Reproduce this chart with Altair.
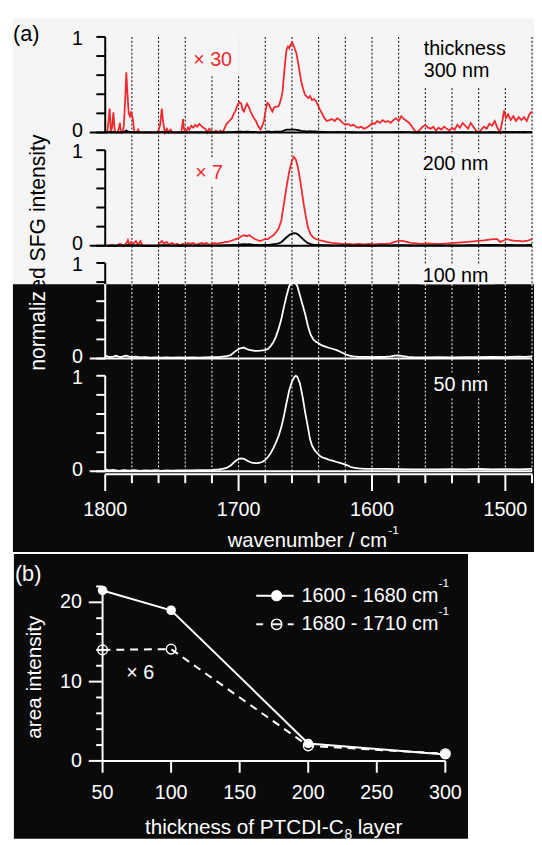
import altair as alt
import pandas as pd

FONT = "Liberation Sans"
RED = "#ee2a2e"
LIGHT = "#f5f5f5"
DARK = "#0a0a0a"

# ---------------- data ----------------
# 300 nm spectrum shown x30 (red); black curve = red / 30
spec300_x30 = [(1800,0.0),(1798.5,0.0),(1797.5,0.12),(1796.7,0.25),(1795.7,0.0),(1794.8,0.06),(1793.9,0.21),(1793.0,0.04),(1792.2,0.0),(1790.8,0.0),(1789.8,0.04),(1789.0,0.1),(1788.2,0.0),(1786.8,0.0),(1786.0,0.08),(1785.0,0.35),(1784.2,0.63),(1783.4,0.42),(1782.4,0.2),(1781.5,0.17),(1780.6,0.22),(1779.3,0.14),(1778.5,0.04),(1778.0,0.0),(1776.5,0.0),(1775.3,0.03),(1774.5,0.0),(1770,0.0),(1766,0.0),(1762,0.0),(1760,0.02),(1758.8,0.08),(1757.6,0.25),(1756.5,0.1),(1755.3,0.0),(1753.8,0.04),(1752.5,0.0),(1751,0.03),(1749.5,0.0),(1745,0.0),(1743,0.0),(1742.3,0.06),(1741.7,0.14),(1741,0.04),(1739.5,0.0),(1738,0.05),(1737,0.03),(1735.5,0.07),(1734,0.05),(1732.5,0.08),(1731,0.06),(1729.5,0.09),(1728,0.07),(1726.5,0.05),(1725,0.04),(1723.5,0.0),(1722,0.04),(1720.5,0.02),(1719,0.0),(1717,0.02),(1715.5,0.0),(1713.5,0.02),(1712,0.0),(1711,0.03),(1709,0.09),(1707,0.12),(1705,0.15),(1703.5,0.2),(1702.5,0.22),(1701,0.28),(1699.5,0.32),(1698,0.3),(1697,0.24),(1696,0.22),(1695,0.26),(1693.7,0.3),(1692.5,0.27),(1691,0.22),(1690,0.19),(1688.5,0.15),(1687,0.12),(1685.5,0.07),(1683.5,0.03),(1682,0.08),(1681,0.12),(1679.5,0.25),(1678.4,0.31),(1677,0.29),(1676,0.25),(1674.6,0.22),(1673.5,0.26),(1672,0.27),(1670.5,0.27),(1669.5,0.29),(1668,0.36),(1667,0.43),(1666,0.6),(1665,0.75),(1664,0.87),(1663,0.9),(1662,0.88),(1661,0.92),(1659.7,0.94),(1658.5,0.9),(1657.5,0.86),(1656.7,0.83),(1655,0.7),(1653,0.53),(1651.5,0.45),(1650,0.39),(1648.5,0.37),(1647.7,0.36),(1646.5,0.38),(1645,0.34),(1643.5,0.35),(1642,0.33),(1641,0.3),(1639,0.24),(1637.5,0.2),(1636,0.16),(1634,0.12),(1632,0.13),(1630,0.14),(1628,0.12),(1626,0.15),(1624,0.13),(1622,0.1),(1620,0.08),(1618,0.09),(1616,0.07),(1614,0.08),(1612,0.06),(1610,0.05),(1608,0.06),(1606,0.04),(1604,0.05),(1602,0.07),(1600,0.1),(1598,0.09),(1596,0.12),(1594,0.1),(1592,0.13),(1590,0.11),(1588,0.12),(1586,0.1),(1584,0.13),(1582,0.15),(1580,0.12),(1578,0.17),(1576,0.14),(1574,0.12),(1572,0.1),(1570,0.06),(1568,0.02),(1566,0.0),(1564,0.03),(1562,0.06),(1560,0.08),(1558,0.05),(1556,0.04),(1554,0.06),(1552,0.02),(1550,0.05),(1548,0.03),(1546,0.06),(1544,0.04),(1542,0.02),(1540,0.05),(1538,0.03),(1536,0.08),(1534,0.05),(1532,0.1),(1530,0.07),(1528,0.04),(1526,0.1),(1524,0.06),(1522,0.02),(1520,0.0),(1518,0.03),(1516,0.06),(1514,0.04),(1512,0.09),(1510,0.07),(1508,0.12),(1506,0.05),(1504,0.0),(1502,0.14),(1501,0.23),(1499.5,0.15),(1498,0.19),(1496,0.13),(1494,0.17),(1492,0.12),(1490,0.16),(1488,0.13),(1486,0.16),(1484,0.12),(1482,0.19),(1480,0.22)]
factor300 = 30

# 200 nm spectrum shown x7 (red); black curve = red / 7
spec200_x7 = [(1798.5,0.0),(1795,0.01),(1792,0.0),(1789,0.02),(1786,0.0),(1784,0.03),(1783,0.06),(1782,0.01),(1780.5,0.04),(1779,0.02),(1777,0.05),(1775.5,0.01),(1773.5,0.05),(1772,0.0),(1768,0.0),(1764,0.0),(1761,0.0),(1759,0.03),(1757.5,0.05),(1756,0.02),(1754,0.04),(1752,0.01),(1750,0.03),(1748,0.01),(1746,0.02),(1744,0.0),(1742,0.02),(1740,0.01),(1738,0.03),(1736,0.02),(1734,0.03),(1732,0.01),(1730,0.02),(1728,0.03),(1726,0.02),(1724,0.03),(1722,0.01),(1720,0.02),(1718,0.03),(1716,0.02),(1714,0.03),(1712,0.03),(1710,0.04),(1708,0.04),(1706,0.05),(1704,0.06),(1702,0.07),(1700,0.08),(1698,0.1),(1696,0.11),(1694,0.1),(1692,0.11),(1690,0.09),(1688,0.07),(1686,0.06),(1684,0.05),(1682,0.06),(1680,0.07),(1678,0.07),(1676,0.09),(1674,0.11),(1672,0.14),(1670,0.18),(1668,0.26),(1666,0.44),(1664,0.62),(1662,0.78),(1660,0.89),(1658.5,0.93),(1657,0.9),(1655.5,0.82),(1654,0.7),(1652.5,0.56),(1651,0.42),(1649.5,0.3),(1648,0.19),(1646,0.12),(1644,0.085),(1642,0.07),(1640,0.06),(1637,0.05),(1634,0.04),(1630,0.03),(1626,0.025),(1622,0.02),(1618,0.02),(1614,0.015),(1610,0.02),(1606,0.015),(1602,0.02),(1598,0.015),(1594,0.02),(1590,0.02),(1586,0.025),(1583,0.04),(1580,0.05),(1577,0.05),(1574,0.04),(1571,0.03),(1567,0.025),(1563,0.02),(1558,0.025),(1553,0.02),(1548,0.02),(1543,0.025),(1538,0.03),(1533,0.035),(1528,0.04),(1524,0.045),(1520,0.05),(1516,0.055),(1512,0.065),(1509,0.07),(1506,0.07),(1504,0.04),(1502,0.05),(1499,0.07),(1496,0.06),(1493,0.05),(1490,0.05),(1487,0.045),(1484,0.05),(1482,0.06),(1480,0.07)]
factor200 = 7

spec100 = [(1800,0.03),(1798,0.02),(1796,0.015),(1794,0.02),(1792,0.03),(1790,0.02),(1788,0.015),(1786,0.025),(1784,0.03),(1782,0.02),(1780,0.015),(1777,0.02),(1774,0.012),(1770,0.015),(1766,0.01),(1762,0.012),(1758,0.01),(1754,0.012),(1750,0.01),(1745,0.012),(1740,0.01),(1735,0.012),(1730,0.01),(1725,0.012),(1720,0.015),(1715,0.015),(1712,0.02),(1709,0.025),(1706,0.035),(1703,0.07),(1700,0.1),(1698,0.11),(1696,0.115),(1694,0.1),(1692,0.09),(1690,0.085),(1688,0.08),(1686,0.08),(1684,0.082),(1682,0.085),(1680,0.09),(1678,0.1),(1676,0.13),(1674,0.17),(1672,0.23),(1670,0.31),(1668,0.41),(1666,0.54),(1664,0.66),(1662,0.76),(1660,0.8),(1658,0.8),(1656,0.76),(1654,0.66),(1652,0.56),(1650,0.46),(1648,0.34),(1646,0.25),(1644,0.2),(1642,0.175),(1640,0.16),(1638,0.14),(1635,0.125),(1632,0.11),(1629,0.1),(1626,0.085),(1623,0.065),(1620,0.045),(1617,0.03),(1614,0.022),(1610,0.018),(1605,0.017),(1600,0.015),(1595,0.016),(1590,0.018),(1586,0.022),(1583,0.03),(1580,0.033),(1577,0.025),(1573,0.018),(1568,0.013),(1560,0.012),(1550,0.015),(1540,0.012),(1530,0.015),(1520,0.015),(1510,0.018),(1500,0.015),(1490,0.02),(1485,0.018),(1480,0.022)]

spec50 = [(1800,0.02),(1797,0.01),(1794,0.015),(1790,0.005),(1786,0.012),(1782,0.008),(1778,0.012),(1774,0.005),(1770,0.01),(1766,0.008),(1762,0.012),(1758,0.005),(1754,0.01),(1750,0.008),(1745,0.01),(1740,0.01),(1735,0.01),(1730,0.012),(1725,0.012),(1720,0.015),(1715,0.02),(1712,0.025),(1709,0.035),(1706,0.06),(1703,0.1),(1700,0.13),(1698,0.135),(1696,0.13),(1694,0.115),(1692,0.1),(1690,0.092),(1688,0.086),(1686,0.085),(1684,0.09),(1682,0.1),(1680,0.12),(1678,0.15),(1676,0.19),(1674,0.24),(1672,0.3),(1670,0.37),(1668,0.46),(1666,0.58),(1664,0.72),(1662,0.85),(1660,0.94),(1658,0.99),(1657,1.0),(1656,0.99),(1654,0.92),(1652,0.78),(1650,0.61),(1648,0.46),(1646.5,0.34),(1645,0.27),(1643,0.22),(1641,0.19),(1639,0.16),(1637,0.145),(1635,0.135),(1632,0.12),(1629,0.11),(1627,0.1),(1624,0.088),(1621,0.075),(1618,0.06),(1616,0.045),(1613,0.035),(1610,0.03),(1605,0.025),(1600,0.025),(1590,0.025),(1580,0.022),(1570,0.02),(1560,0.02),(1550,0.02),(1540,0.022),(1530,0.02),(1520,0.025),(1510,0.02),(1500,0.022),(1490,0.02),(1480,0.025)]

grid_wn = [1780,1760,1740,1720,1700,1680,1660,1640,1620,1600,1580,1560,1540,1520,1500,1480]
major_wn = [1800,1700,1600,1500]
minor_wn = [1780,1760,1740,1720,1680,1660,1640,1620,1580,1560,1540,1520,1480]
ytick_a = [0,0.2,0.4,0.6,0.8,1.0]

thickness = [50,100,200,300]
area_1600_1680 = [21.5,19.0,2.2,0.8]
area_1680_1710_x6 = [14.0,14.1,1.9,0.9]
xtick_b = [50,100,150,200,250,300]
ymajor_b = [0,10,20]
yminor_b = [2,4,6,8,12,14,16,18,22]

# ---------------- layout (chart px) ----------------
ZERO = [120,235,349.5,464]
ONE = [23,138,252.5,367]
XA = alt.Scale(domain=[1800,1480], range=[98.7,532], zero=False, nice=False)
def YA(k):
    return alt.Scale(domain=[0,1], range=[ZERO[k],ONE[k]], zero=False, nice=False)
XB = alt.Scale(domain=[50,300], range=[96,444], zero=False, nice=False)
YB = alt.Scale(domain=[0,22], range=[758,580.9], zero=False, nice=False)

ROW = pd.DataFrame({"k":[0]})

def rect(x, x2, y, y2, color):
    return alt.Chart(ROW).mark_rect(color=color).encode(
        x=alt.value(x), x2=alt.value(x2), y=alt.value(y), y2=alt.value(y2))

def seg(x, x2, y, y2, color, w=2):
    return alt.Chart(ROW).mark_rule(color=color, strokeWidth=w).encode(
        x=alt.value(x), x2=alt.value(x2), y=alt.value(y), y2=alt.value(y2))

def text(s, x, y, color="black", size=20, align="left", baseline="middle", angle=0):
    return alt.Chart(ROW).mark_text(text=s, font=FONT, fontSize=size, color=color,
                                    align=align, baseline=baseline, angle=angle).encode(
        x=alt.value(x), y=alt.value(y))

def spec_df(pairs):
    return pd.DataFrame(pairs, columns=["wn","v"])

def spec_line(pairs, k, color, divide=1, w=1.8):
    c = alt.Chart(spec_df(pairs))
    if divide != 1:
        c = c.transform_calculate(v=f"datum.v / {divide}")
    return c.mark_line(color=color, strokeWidth=w).encode(
        x=alt.X("wn:Q", scale=XA, axis=None),
        y=alt.Y("v:Q", scale=YA(k), axis=None))

layers = []
# backgrounds
layers += [rect(5,534,4,274,LIGHT), rect(5,534,274,546,DARK), rect(6,467,548,837,DARK)]

# dotted grid
gdf = pd.DataFrame({"wn": grid_wn})
layers.append(alt.Chart(gdf).mark_rule(color="black", strokeWidth=1, strokeDash=[2,2]).encode(
    x=alt.X("wn:Q", scale=XA, axis=None), y=alt.value(23), y2=alt.value(274)))
layers.append(alt.Chart(gdf).mark_rule(color="white", strokeWidth=1, strokeDash=[2,2]).encode(
    x=alt.X("wn:Q", scale=XA, axis=None), y=alt.value(274), y2=alt.value(467)))

# label boxes
layers += [rect(184,235,23,62,LIGHT), rect(418,513,23,73,LIGHT), rect(186,224,147,175,LIGHT),
           rect(418,495,140,165,LIGHT), rect(418,494,254,274,LIGHT), rect(428,494,364,389,DARK)]

# red scaled spectra
layers.append(spec_line(spec300_x30, 0, RED))
layers.append(spec_line(spec200_x7, 1, RED))

# zero baselines and y axes
axis_cols = ["black","black","white","white"]
for k in range(4):
    layers.append(alt.Chart(pd.DataFrame({"t":[0]})).mark_rule(color=axis_cols[k], strokeWidth=2).encode(
        y=alt.Y("t:Q", scale=YA(k), axis=None), x=alt.value(83), x2=alt.value(532)))

layers.append(spec_line(spec300_x30, 0, "black", divide=factor300))
layers.append(spec_line(spec200_x7, 1, "black", divide=factor200))
layers.append(spec_line(spec100, 2, "white"))
layers.append(spec_line(spec50, 3, "white"))

for k in range(4):
    if k == 2:
        parts = [(1.0,0.78,"black",[1.0,0.8]),(0.78,0.0,"white",[0,0.2,0.4,0.6])]
    else:
        parts = [(1.0,0.0,axis_cols[k],ytick_a)]
    for a, b, col, tks in parts:
        layers.append(alt.Chart(pd.DataFrame({"a":[a],"b":[b]})).mark_rule(color=col, strokeWidth=2).encode(
            y=alt.Y("a:Q", scale=YA(k), axis=None), y2="b:Q", x=alt.value(98.7)))
        layers.append(alt.Chart(pd.DataFrame({"t":tks})).mark_rule(color=col, strokeWidth=2).encode(
            y=alt.Y("t:Q", scale=YA(k), axis=None), x=alt.value(89.7), x2=alt.value(98.7)))
    labcols = {0:("black","black"),1:("black","black"),2:("black","white"),3:("white","white")}[k]
    for val, lab, col, dy in [(1,"1",labcols[0],2),(0,"0",labcols[1],-1.5)]:
        layers.append(alt.Chart(pd.DataFrame({"t":[val],"lab":[lab]})).mark_text(
            font=FONT, fontSize=20, color=col, align="right", baseline="middle", dy=dy).encode(
            y=alt.Y("t:Q", scale=YA(k), axis=None), x=alt.value(76), text="lab:N"))

# x axis of panel (a)
layers.append(alt.Chart(pd.DataFrame({"a":[1800],"b":[1480]})).mark_rule(color="white", strokeWidth=2).encode(
    x=alt.X("a:Q", scale=XA, axis=None), x2="b:Q", y=alt.value(467)))
layers.append(alt.Chart(pd.DataFrame({"wn":minor_wn})).mark_rule(color="white", strokeWidth=2).encode(
    x=alt.X("wn:Q", scale=XA, axis=None), y=alt.value(467), y2=alt.value(476)))
layers.append(alt.Chart(pd.DataFrame({"wn":major_wn})).mark_rule(color="white", strokeWidth=2).encode(
    x=alt.X("wn:Q", scale=XA, axis=None), y=alt.value(467), y2=alt.value(484)))
layers.append(alt.Chart(pd.DataFrame({"wn":major_wn,"lab":[str(v) for v in major_wn]})).mark_text(
    font=FONT, fontSize=20, color="white", align="center", baseline="middle").encode(
    x=alt.X("wn:Q", scale=XA, axis=None), y=alt.value(503), text="lab:N"))

# panel (a) texts
layers += [
    text("(a)", 5, 20, size=22),
    text("× 30", 188, 46.5, color=RED),
    text("thickness", 422, 35),
    text("300 nm", 422, 58),
    text("× 7", 190, 161, color=RED),
    text("200 nm", 421, 152),
    text("100 nm", 421, 266),
    text("50 nm", 432, 376, color="white"),
    text("normaliz", 38, 362, color="white", size=21.5, baseline="alphabetic", angle=270),
    text("ed SFG intensity", 38, 280.8, color="black", size=21.5, baseline="alphabetic", angle=270),
    text("wavenumber / cm", 223, 541, color="white", size=20.5, baseline="alphabetic"),
    text("-1", 386, 528, color="white", size=12, baseline="alphabetic"),
]

# ---------------- panel (b) ----------------
bdf = pd.DataFrame({"th":thickness, "main":area_1600_1680, "sh":area_1680_1710_x6})
layers.append(alt.Chart(bdf).mark_line(color="white", strokeWidth=2, strokeDash=[8,6]).encode(
    x=alt.X("th:Q", scale=XB, axis=None), y=alt.Y("sh:Q", scale=YB, axis=None)))
layers.append(alt.Chart(bdf).mark_line(color="white", strokeWidth=2).encode(
    x=alt.X("th:Q", scale=XB, axis=None), y=alt.Y("main:Q", scale=YB, axis=None)))
# axes b
layers.append(alt.Chart(pd.DataFrame({"a":[0],"b":[22]})).mark_rule(color="white", strokeWidth=2).encode(
    y=alt.Y("a:Q", scale=YB, axis=None), y2="b:Q", x=alt.value(96)))
layers.append(alt.Chart(pd.DataFrame({"a":[50],"b":[300]})).mark_rule(color="white", strokeWidth=2).encode(
    x=alt.X("a:Q", scale=XB, axis=None), x2="b:Q", y=alt.value(758)))
layers.append(alt.Chart(pd.DataFrame({"t":ymajor_b})).mark_rule(color="white", strokeWidth=2).encode(
    y=alt.Y("t:Q", scale=YB, axis=None), x=alt.value(82), x2=alt.value(96)))
layers.append(alt.Chart(pd.DataFrame({"t":yminor_b})).mark_rule(color="white", strokeWidth=2).encode(
    y=alt.Y("t:Q", scale=YB, axis=None), x=alt.value(89.5), x2=alt.value(96)))
layers.append(alt.Chart(pd.DataFrame({"t":xtick_b})).mark_rule(color="white", strokeWidth=2).encode(
    x=alt.X("t:Q", scale=XB, axis=None), y=alt.value(758), y2=alt.value(770)))
layers.append(alt.Chart(pd.DataFrame({"t":xtick_b,"lab":[str(v) for v in xtick_b]})).mark_text(
    font=FONT, fontSize=20, color="white", align="center", baseline="middle").encode(
    x=alt.X("t:Q", scale=XB, axis=None), y=alt.value(790.5), text="lab:N"))
layers.append(alt.Chart(pd.DataFrame({"t":ymajor_b,"lab":[str(v) for v in ymajor_b]})).mark_text(
    font=FONT, fontSize=20, color="white", align="right", baseline="middle").encode(
    y=alt.Y("t:Q", scale=YB, axis=None), x=alt.value(75), text="lab:N"))
# markers
layers.append(alt.Chart(bdf).mark_point(shape="circle", filled=False, color="white", strokeWidth=1.5, size=95, opacity=1).encode(
    x=alt.X("th:Q", scale=XB, axis=None), y=alt.Y("sh:Q", scale=YB, axis=None)))
layers.append(alt.Chart(bdf).mark_point(shape="circle", filled=True, color="white", size=95, opacity=1).encode(
    x=alt.X("th:Q", scale=XB, axis=None), y=alt.Y("main:Q", scale=YB, axis=None)))
# legend
layers += [
    seg(252, 290, 590.3, 590.3, "white"),
    alt.Chart(ROW).mark_point(shape="circle", filled=True, color="white", size=130, opacity=1).encode(
        x=alt.value(272.7), y=alt.value(590.3)),
    seg(252, 259, 619.3, 619.3, "white"),
    seg(267, 278, 619.3, 619.3, "white"),
    seg(284, 290, 619.3, 619.3, "white"),
    alt.Chart(ROW).mark_point(shape="circle", filled=False, color="white", strokeWidth=1.5, size=110, opacity=1).encode(
        x=alt.value(272.7), y=alt.value(619.3)),
    text("1600 - 1680 cm", 298, 590.3, color="white"),
    text("-1", 437, 577, color="white", size=12),
    text("1680 - 1710 cm", 298, 619.3, color="white"),
    text("-1", 437, 606, color="white", size=12),
    text("(b)", 7, 568, color="white", size=22),
    text("× 6", 120, 668.7, color="white"),
    text("area intensity", 33, 673, color="white", size=21, align="center", baseline="alphabetic", angle=270),
    text("thickness of PTCDI-C", 139, 832, color="white", size=21, baseline="alphabetic"),
    text("8", 341.5, 837, color="white", size=14, baseline="alphabetic"),
    text("layer", 355, 832, color="white", size=21, baseline="alphabetic"),
]

chart = alt.layer(*layers).properties(
    width=534, height=837, padding=0, autosize=alt.AutoSizeParams(type="none")
).resolve_scale(x="independent", y="independent").configure_view(strokeWidth=0)

chart.save("out.html", embed_options={"renderer": "svg", "actions": False})
